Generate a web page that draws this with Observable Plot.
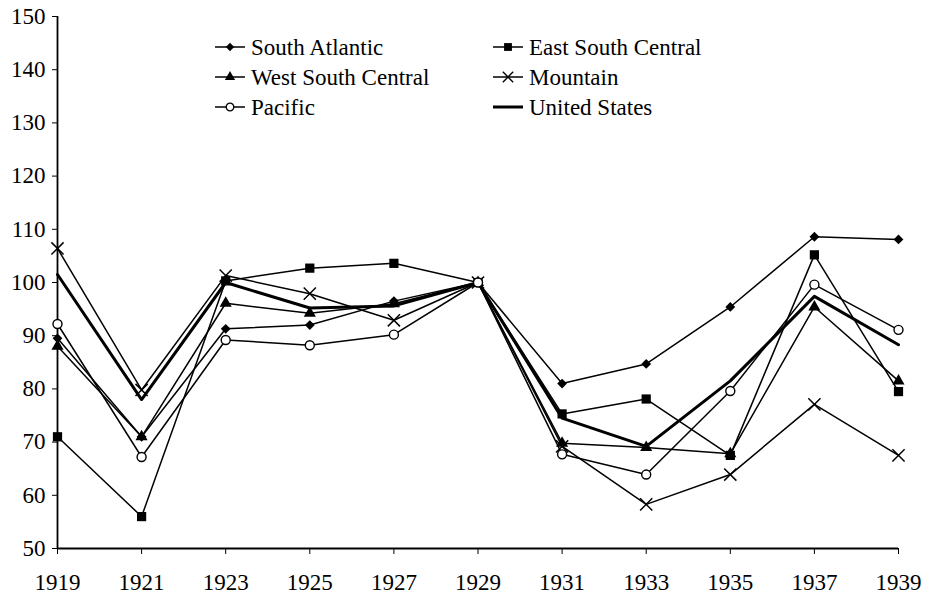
<!DOCTYPE html>
<html><head><meta charset="utf-8">
<script src="https://cdn.jsdelivr.net/npm/d3@7"></script>
<script src="https://cdn.jsdelivr.net/npm/@observablehq/plot@0.6"></script>
<style>
body{margin:0;background:#fff}
#chart{width:930px;height:596px}
</style>
</head><body><div id="chart"></div>
<script>
const years = [1919, 1921, 1923, 1925, 1927, 1929, 1931, 1933, 1935, 1937, 1939];
const southAtlantic    = [89.5, 71.0, 91.3, 92.0, 96.5, 100, 81.0, 84.7, 95.4, 108.6, 108.1];
const eastSouthCentral = [71.0, 56.0, 100.3, 102.7, 103.6, 100, 75.3, 78.1, 67.5, 105.2, 79.5];
const westSouthCentral = [88.0, 71.0, 96.1, 94.2, 96.0, 100, 69.8, 69.0, 67.8, 95.4, 81.5];
const mountain         = [106.4, 79.8, 101.3, 97.9, 92.9, 100, 69.2, 58.3, 63.9, 77.1, 67.5];
const pacific          = [92.2, 67.2, 89.2, 88.2, 90.2, 100, 67.7, 63.9, 79.6, 99.6, 91.1];
const unitedStates     = [101.5, 78.0, 100.0, 95.2, 95.6, 100, 74.5, 69.2, 81.5, 97.4, 88.3];
const seriesNames = ["South Atlantic", "East South Central", "West South Central", "Mountain", "Pacific", "United States"];
const yTicks = [50, 60, 70, 80, 90, 100, 110, 120, 130, 140, 150];
const xTicks = years;

const seriesValues = [southAtlantic, eastSouthCentral, westSouthCentral, mountain, pacific, unitedStates];
const symbols = {"South Atlantic":"diamond2","East South Central":"square","West South Central":"triangle","Mountain":"times","Pacific":"circle","United States":null};
const radii = {"diamond2":4.4,"square":5.2,"triangle":4.5,"times":5.6,"circle":4.5};
const rows = seriesNames.flatMap((n, k) => years.map((yr, i) => ({name: n, year: yr, value: seriesValues[k][i]})));
const regional = rows.filter(d => d.name !== "United States");
const us = rows.filter(d => d.name === "United States");
const bySym = s => regional.filter(d => symbols[d.name] === s);

const plot = Plot.plot({
  width: 930, height: 596,
  marginLeft: 57, marginRight: 32, marginTop: 16, marginBottom: 48,
  style: {fontFamily: "'Liberation Serif', serif", fontSize: "23px", color: "black", background: "white"},
  x: {domain: [1919, 1939], ticks: xTicks, tickFormat: d => String(d), tickSize: 6, tickPadding: 19, label: null},
  y: {domain: [50, 150], ticks: yTicks, tickSize: 5, tickPadding: 7, label: null},
  marks: [
    Plot.ruleY([50], {stroke: "black", strokeWidth: 1.8}),
    Plot.ruleX([1919], {stroke: "black", strokeWidth: 1.8}),
    Plot.line(regional, {x: "year", y: "value", z: "name", stroke: "black", strokeWidth: 1.5}),
    Plot.line(us, {x: "year", y: "value", stroke: "black", strokeWidth: 3}),
    Plot.dot(bySym("diamond2"), {x: "year", y: "value", symbol: "diamond2", r: radii.diamond2, fill: "black", stroke: "none"}),
    Plot.dot(bySym("square"), {x: "year", y: "value", symbol: "square", r: radii.square, fill: "black", stroke: "none"}),
    Plot.dot(bySym("triangle"), {x: "year", y: "value", symbol: "triangle", r: radii.triangle, fill: "black", stroke: "none"}),
    Plot.dot(bySym("times"), {x: "year", y: "value", symbol: "times", r: radii.times, fill: "none", stroke: "black", strokeWidth: 1.5}),
    Plot.dot(bySym("circle"), {x: "year", y: "value", symbol: "circle", r: radii.circle, fill: "white", stroke: "black", strokeWidth: 1.4})
  ]
});
document.getElementById("chart").appendChild(plot);

// Legend
const symMap = {diamond2: d3.symbolDiamond2, square: d3.symbolSquare, triangle: d3.symbolTriangle, times: d3.symbolTimes, circle: d3.symbolCircle};
const colX = [215, 493], rowY = [47, 77, 107];
const order = [["South Atlantic", 0, 0], ["West South Central", 0, 1], ["Pacific", 0, 2],
               ["East South Central", 1, 0], ["Mountain", 1, 1], ["United States", 1, 2]];
const g = d3.select(plot).append("g")
  .attr("font-family", "'Liberation Serif', serif").attr("font-size", 23).attr("text-anchor", "start");
for (const [name, c, r] of order) {
  const x0 = colX[c], y0 = rowY[r];
  const s = symbols[name];
  g.append("line").attr("x1", x0).attr("x2", x0 + 30).attr("y1", y0).attr("y2", y0)
    .attr("stroke", "black").attr("stroke-width", s ? 1.5 : 3);
  if (s) {
    const rr = radii[s] * 0.85;
    const p = g.append("path").attr("transform", `translate(${x0 + 15},${y0})`)
      .attr("d", d3.symbol(symMap[s], Math.PI * rr * rr)());
    if (s === "times") p.attr("fill", "none").attr("stroke", "black").attr("stroke-width", 1.4);
    else if (s === "circle") p.attr("fill", "white").attr("stroke", "black").attr("stroke-width", 1.3);
    else p.attr("fill", "black");
  }
  g.append("text").attr("x", x0 + 36).attr("y", y0 + 8).attr("text-anchor", "start").attr("fill", "black").text(name);
}
</script>
</body></html>
